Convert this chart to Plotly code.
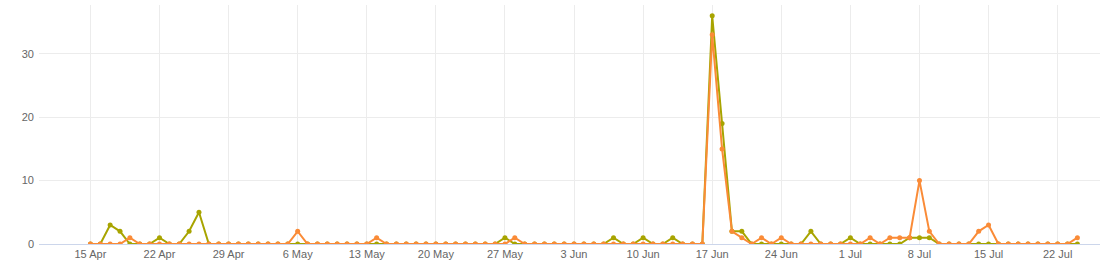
import pandas as pd
import plotly.graph_objects as go

start_date = "2019-04-15"
n_days = 101
dates = pd.date_range(start_date, periods=n_days, freq="D")

series_a_name = "Series A"
series_a = [
    0, 0, 3, 2, 0, 0, 0, 1, 0, 0,
    2, 5, 0, 0, 0, 0, 0, 0, 0, 0,
    0, 0, 0, 0, 0, 0, 0, 0, 0, 0,
    0, 0, 0, 0, 0, 0, 0, 0, 0, 0,
    0, 0, 1, 0, 0, 0, 0, 0, 0, 0,
    0, 0, 0, 1, 0, 0, 1, 0, 0, 1,
    0, 0, 0, 36, 19, 2, 2, 0, 0, 0,
    0, 0, 0, 2, 0, 0, 0, 1, 0, 0,
    0, 0, 0, 1, 1, 1, 0, 0, 0, 0,
    0, 0, 0, 0, 0, 0, 0, 0, 0, 0,
    0,
]

series_b_name = "Series B"
series_b = [
    0, 0, 0, 0, 1, 0, 0, 0, 0, 0,
    0, 0, 0, 0, 0, 0, 0, 0, 0, 0,
    0, 2, 0, 0, 0, 0, 0, 0, 0, 1,
    0, 0, 0, 0, 0, 0, 0, 0, 0, 0,
    0, 0, 0, 1, 0, 0, 0, 0, 0, 0,
    0, 0, 0, 0, 0, 0, 0, 0, 0, 0,
    0, 0, 0, 33, 15, 2, 1, 0, 1, 0,
    1, 0, 0, 0, 0, 0, 0, 0, 0, 1,
    0, 1, 1, 1, 10, 2, 0, 0, 0, 0,
    2, 3, 0, 0, 0, 0, 0, 0, 0, 0,
    1,
]

y_ticks = [0, 10, 20, 30]

color_a = "#a8a400"
color_b = "#fa8b37"

fig = go.Figure()
fig.add_trace(go.Scatter(
    x=dates, y=series_a, name=series_a_name, mode="lines+markers",
    line=dict(color=color_a, width=2), marker=dict(color=color_a, size=5),
))
fig.add_trace(go.Scatter(
    x=dates, y=series_b, name=series_b_name, mode="lines+markers",
    line=dict(color=color_b, width=2), marker=dict(color=color_b, size=5),
))

fig.update_layout(
    width=1100, height=263,
    margin=dict(l=39, r=0, t=5, b=19),
    paper_bgcolor="white", plot_bgcolor="white",
    showlegend=False,
    font=dict(family="Liberation Sans, Arial, sans-serif", size=11, color="#666666"),
)
fig.update_xaxes(
    type="date",
    range=["2019-04-09 19:00", "2019-07-26 07:00"],
    dtick=7 * 24 * 3600 * 1000,
    tick0="2019-04-15",
    tickformat="%-d %b",
    showgrid=True, gridcolor="#ececec", gridwidth=1,
    showline=True, linecolor="#ccd6eb", linewidth=1,
    zeroline=False, ticks="",
    tickfont=dict(size=11, color="#666666"),
)
fig.update_yaxes(
    range=[0, 37.7],
    tickvals=y_ticks,
    showgrid=True, gridcolor="#ececec", gridwidth=1,
    zeroline=False, showline=False, ticks="",
    ticklabelstandoff=4,
    tickfont=dict(size=11, color="#666666"),
)

fig.write_html("out.html")
